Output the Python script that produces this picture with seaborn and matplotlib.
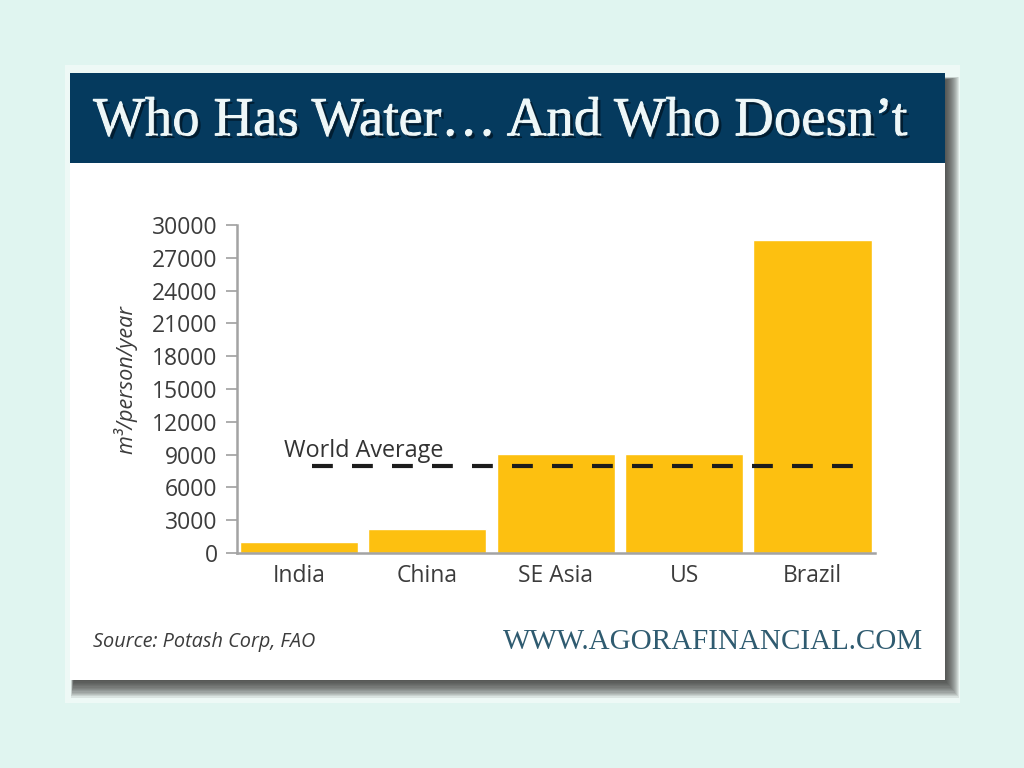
import pandas as pd
import matplotlib
matplotlib.use("Agg")
import matplotlib.pyplot as plt
import matplotlib.patheffects as pe
from matplotlib.patches import Rectangle
import seaborn as sns

# values
regions = ["India", "China", "SE Asia", "US", "Brazil"]
water = [1000, 2150, 9050, 9050, 28600]
world_average = 8000
y_ticks = [0, 3000, 6000, 9000, 12000, 15000, 18000, 21000, 24000, 27000, 30000]

title = "Who Has Water\u2026 And Who Doesn\u2019t"
source = "Source: Potash Corp, FAO"
website = "WWW.AGORAFINANCIAL.COM"

sns.set_theme(style="white")
plt.rcParams["font.family"] = ["Open Sans", "DejaVu Sans"]

fig = plt.figure(figsize=(10.24, 7.68), dpi=100, facecolor="#e0f5f0")

# backdrop drawn in pixel coordinates
bg = fig.add_axes([0, 0, 1, 1], zorder=0)
bg.set_xlim(0, 1024)
bg.set_ylim(768, 0)
bg.axis("off")
bg.add_patch(Rectangle((65, 65), 895, 638, color="#eef9f6", lw=0))

# soft drop shadow, stacked from wide and pale to narrow and dark
for grow in range(14, 0, -1):
    left = 74 - grow * 0.2
    top = 80 - grow * 0.2
    right = 945 + grow
    bottom = 680 + grow * 1.25
    bg.add_patch(Rectangle((left, top), right - left, bottom - top,
                           color="#303030", alpha=0.1, lw=0))

bg.add_patch(Rectangle((70, 73), 875, 607, color="white", lw=0))
bg.add_patch(Rectangle((70, 73), 875, 90, color="#053a5e", lw=0))

bg.text(501, 122, title, family="Liberation Serif", fontsize=39.5,
        color="#eef7f8", ha="center", va="center",
        path_effects=[pe.withStroke(linewidth=0.8, foreground="#eef7f8"),
                      pe.withSimplePatchShadow(offset=(2, -2), shadow_rgbFace="#01182a", alpha=0.85)])
bg.text(93, 642, source, fontsize=14.3, style="italic", color="#3c3c3c", va="center")
bg.text(923, 642, website, family="Liberation Serif", fontsize=20.9, color="#2f5b70",
        ha="right", va="center")
bg.text(125, 380, "m\u00b3/person/year", fontsize=15.6, style="italic", color="#3c3c3c",
        rotation=90, ha="center", va="center")
bg.text(364, 451, "World Average", fontsize=16.8, color="#333333", ha="center", va="center")

# chart area
ax = fig.add_axes([237 / 1024, 1 - 553 / 768, 638 / 1024, 328 / 768], zorder=1)
ax.patch.set_alpha(0)

df = pd.DataFrame({"region": regions, "water": water})
sns.barplot(data=df, x="region", y="water", color="#fdc010", saturation=1, width=0.92, ax=ax)

ax.axhline(world_average, xmin=0.118, xmax=0.966, color="#1c1c1c", lw=3,
           dashes=(5, 4.6), dash_capstyle="butt")

ax.set_xlim(-0.483, 4.487)
ax.set_ylim(0, 30000)
ax.set_yticks(y_ticks)
ax.set_xlabel("")
ax.set_ylabel("")
ax.tick_params(axis="y", length=8, width=1.2, color="#a0a0a0", labelsize=16.5,
               labelcolor="#3c3c3c", pad=6, left=True)
ax.tick_params(axis="x", length=0, labelsize=16.5, labelcolor="#3c3c3c", pad=8)

sns.despine(ax=ax, top=True, right=True)
for side in ["left", "bottom"]:
    ax.spines[side].set_color("#a3a3a3")
    ax.spines[side].set_linewidth(1.8)

plt.savefig("out.png", dpi=100, facecolor=fig.get_facecolor())
